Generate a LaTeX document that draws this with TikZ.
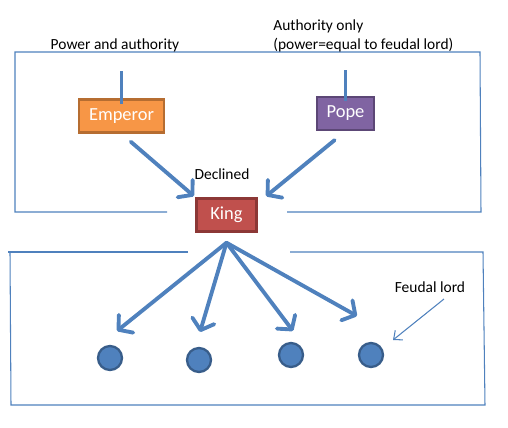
\documentclass[tikz,border=0pt]{standalone}
\usepackage{fontspec}
\setmainfont{Carlito}
\usetikzlibrary{arrows.meta, positioning}
\definecolor{accblue}{HTML}{4F81BD}
\definecolor{blueedge}{HTML}{385D8A}
\definecolor{empfill}{HTML}{F79646}
\definecolor{empedge}{HTML}{B66D31}
\definecolor{popefill}{HTML}{8064A2}
\definecolor{popeedge}{HTML}{5C4776}
\definecolor{kingfill}{HTML}{C0504D}
\definecolor{kingedge}{HTML}{8C3836}

\begin{document}
\begin{tikzpicture}[
  x=0.02cm, y=-0.02cm,
  rank/.style={draw,line width=1.4pt,inner sep=0pt,minimum height=0.66cm,text=white,
    font=\fontsize{10.5}{12}\selectfont},
  frame/.style={accblue,line width=0.6pt},
  stem/.style={accblue,line width=1.4pt},
  big/.style={accblue,line width=2.2pt,line cap=round,
    -{Straight Barb[length=5.5pt,width=13pt,line width=2.2pt,round]}},
  lord/.style={circle,draw=blueedge,fill=accblue,line width=1.3pt,minimum size=0.48cm,inner sep=0pt},
  note/.style={font=\fontsize{8.8}{10.8}\selectfont,inner sep=0pt}
]
  \useasboundingbox (0,0) rectangle (508,427);

  % frames
  \draw[frame] (167,212) -- (15,212) -- (15,52) -- (480,52) -- (481,212) -- (287,212);
  \draw[frame] (188,252) -- (8,252);
  \draw[frame] (290,252) -- (483,252) -- (485,405) -- (11,405) -- (10,252);

  % ranks
  \node[rank,fill=empfill,draw=empedge,minimum width=1.7cm] (emp) at (121.5,116) {Emperor};
  \node[rank,fill=popefill,draw=popeedge,minimum width=1.15cm] (pope) at (345.5,113.5) {Pope};
  \node[rank,fill=kingfill,draw=kingedge,minimum width=1.2cm] (king) at (226.5,215) {King};

  % labels
  \node[note] (pa) at (115,45) {Power and authority};
  \node[note,align=left,anchor=west] (ao) at (273,35.5) {Authority only\\(power=equal to feudal lord)};
  \node[note] (dec) at (222,174) {Declined};
  \node[note] (fl) at (430,287) {Feudal lord};

  \draw[stem] ([yshift=-3pt]emp.north) -- ++(0,-33);
  \draw[stem] ([yshift=-3pt]pope.north) -- ++(0,-31);

  \draw[big,shorten <=7pt,shorten >=1pt] (emp.south) -- (king.north west);
  \draw[big,shorten <=8pt,shorten >=1pt] (pope.south) -- ([xshift=4pt]king.north east);

  % feudal lords
  \node[lord] (c1) at (110,358) {};
  \node[lord] (c2) at (199,360) {};
  \node[lord] (c3) at (291,355) {};
  \node[lord] (c4) at (371,355) {};

  \coordinate (kfan) at ([yshift=-5.7pt]king.south);
  \coordinate (t1) at (117,331);
  \coordinate (t2) at (200,332);
  \coordinate (t3) at (293,331);
  \coordinate (t4) at (357,316);
  \foreach \t in {t1,t2,t3,t4}
    \draw[big] (kfan) -- (\t);

  \coordinate (flstart) at (444,299);
  \coordinate (flend) at (393,340);
  \draw[accblue,line width=0.6pt,-{Straight Barb[length=4pt,width=7pt]}] (flstart) -- (flend);
\end{tikzpicture}
\end{document}
